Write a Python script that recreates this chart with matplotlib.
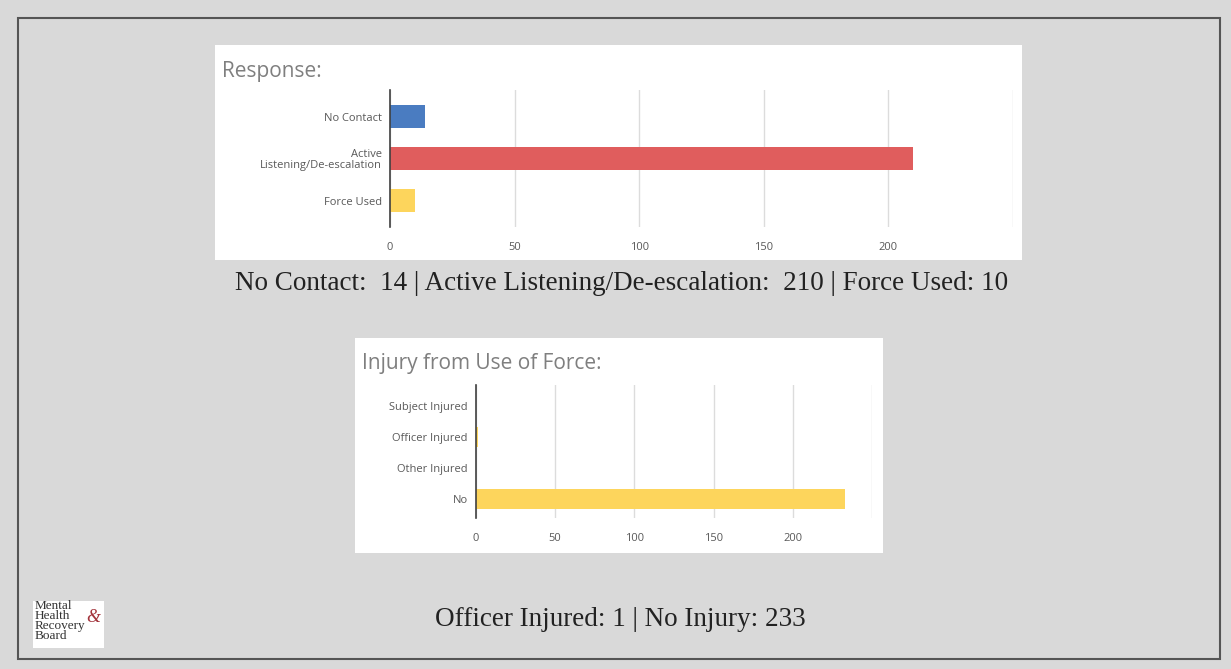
import matplotlib.pyplot as plt
from matplotlib.patches import Rectangle

# ---------------- data ----------------
response_labels = ["No Contact", "Active\nListening/De-escalation", "Force Used"]
response_values = [14, 210, 10]
response_colors = ["#4a7cc1", "#e05d5d", "#fdd55c"]

injury_labels = ["Subject Injured", "Officer Injured", "Other Injured", "No"]
injury_values = [0, 1, 0, 233]
injury_color = "#fdd55c"

x_ticks = [0, 50, 100, 150, 200]

caption_response = "No Contact:  14 | Active Listening/De-escalation:  210 | Force Used: 10"
caption_injury = "Officer Injured: 1 | No Injury: 233"

W, H = 1231, 669
BG = "#d9d9d9"
GRAY_TXT = "#595959"
TITLE_TXT = "#7f7f7f"


def fx(x):
    return x / W


def fy(y):
    return 1 - y / H


def box(fig, x0, y0, x1, y1, **kw):
    fig.patches.append(Rectangle((fx(x0), fy(y1)), fx(x1 - x0), (y1 - y0) / H,
                                 transform=fig.transFigure, zorder=-1, **kw))


def axes_px(fig, x0, y0, x1, y1):
    return fig.add_axes([fx(x0), fy(y1), fx(x1 - x0), (y1 - y0) / H])


def style_bar_axes(ax):
    ax.set_facecolor("white")
    ax.set_xlim(0, 250)
    ax.set_xticks(x_ticks + [250])
    ax.set_xticklabels([str(t) for t in x_ticks] + [""])
    ax.grid(axis="x", color="#dcdcdc", linewidth=1)
    ax.set_axisbelow(True)
    for s in ["top", "right", "bottom"]:
        ax.spines[s].set_visible(False)
    ax.spines["left"].set_color("#404040")
    ax.spines["left"].set_linewidth(1.2)
    ax.tick_params(axis="x", length=0, labelsize=8, labelcolor=GRAY_TXT, pad=11)
    ax.tick_params(axis="y", length=0, labelsize=8, labelcolor=GRAY_TXT, pad=6)
    for lab in ax.get_yticklabels():
        lab.set_fontfamily("Open Sans")
    for lab in ax.get_xticklabels():
        lab.set_fontfamily("Open Sans")


fig = plt.figure(figsize=(W / 100, H / 100), dpi=100, facecolor=BG)

# outer frame
box(fig, 18, 18, 1220, 659, facecolor="none", edgecolor="#555555", linewidth=1.5)

# ---------------- chart 1: Response ----------------
box(fig, 215, 45, 1022, 260, facecolor="white", edgecolor="none")
fig.text(fx(222), fy(72), "Response:", fontsize=15, color=TITLE_TXT,
         family="Open Sans", va="center", ha="left")

ax1 = axes_px(fig, 390, 90, 1013, 227)
ax1.barh(range(len(response_values)), response_values, height=0.55,
         color=response_colors)
ax1.set_yticks(range(len(response_labels)))
ax1.set_yticklabels(response_labels, fontsize=8, ha="right", linespacing=1.0)
ax1.set_ylim(137 / 42 - 0.64, -0.64)
style_bar_axes(ax1)

fig.text(fx(622), fy(283), caption_response, fontsize=19.5, family="Liberation Serif",
         color="#222222", ha="center", va="center")

# ---------------- chart 2: Injury ----------------
box(fig, 355, 338, 883, 553, facecolor="white", edgecolor="none")
fig.text(fx(362), fy(363), "Injury from Use of Force:", fontsize=15, color=TITLE_TXT,
         family="Open Sans", va="center", ha="left")

ax2 = axes_px(fig, 476, 385, 872, 518)
ax2.barh(range(len(injury_values)), injury_values, height=0.65, color=injury_color)
ax2.set_yticks(range(len(injury_labels)))
ax2.set_yticklabels(injury_labels, fontsize=8)
ax2.set_ylim(133 / 31 - 0.68, -0.68)
style_bar_axes(ax2)

fig.text(fx(620), fy(620), caption_injury, fontsize=19.5, family="Liberation Serif",
         color="#222222", ha="center", va="center")

# ---------------- logo ----------------
box(fig, 33, 601, 104, 648, facecolor="white", edgecolor="none")
logo_lines = ["Mental", "Health", "Recovery", "Board"]
for i, line in enumerate(logo_lines):
    fig.text(fx(35), fy(606 + i * 10), line, fontsize=9.5, family="Liberation Serif",
             color="#333333", ha="left", va="center")
fig.text(fx(86), fy(617), "&", fontsize=13, family="Liberation Serif", style="italic",
         color="#a3343c", ha="left", va="center")

fig.savefig("out.png", dpi=100, facecolor=BG)
